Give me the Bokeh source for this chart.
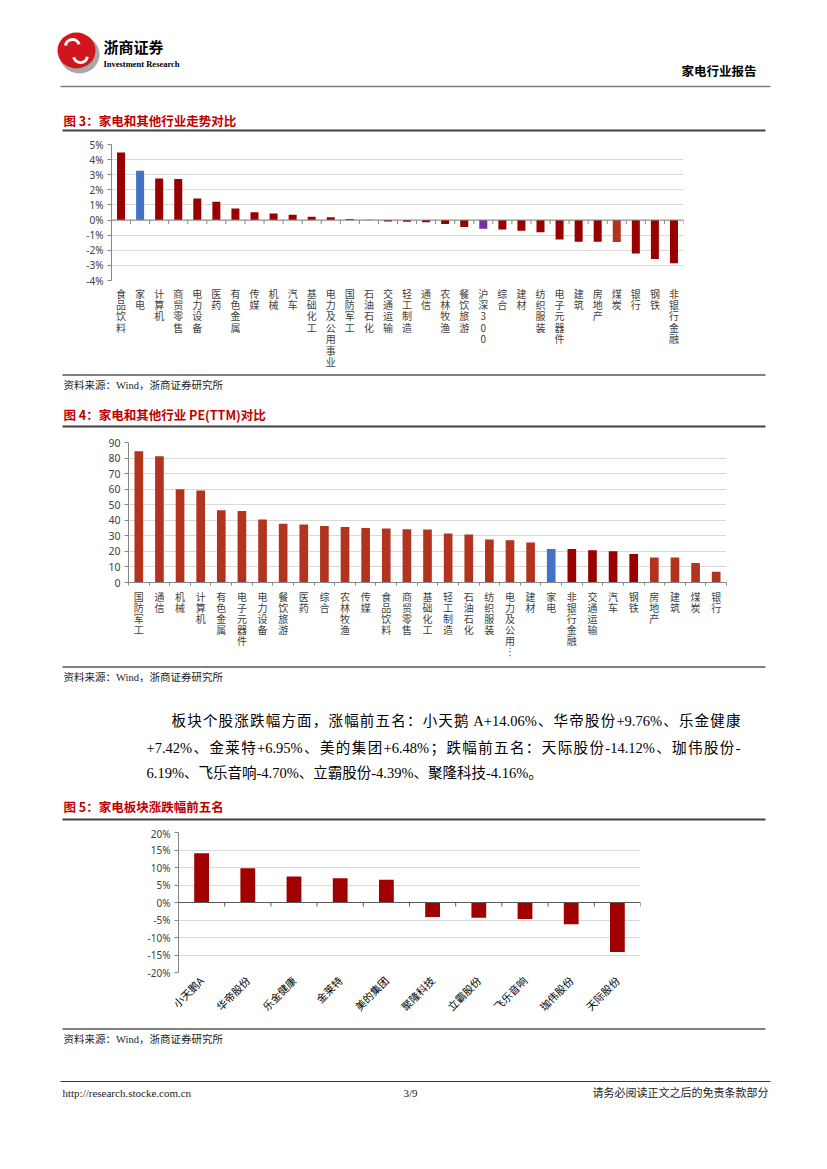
import math
from bokeh.plotting import figure
from bokeh.models import Range1d, FixedTicker, PrintfTickFormatter, ColumnDataSource, Span
from bokeh.core.properties import value
from bokeh.embed import file_html
from bokeh.resources import INLINE

# ---------------- data ----------------
cats3 = ["食品饮料", "家电", "计算机", "商贸零售", "电力设备", "医药", "有色金属", "传媒", "机械", "汽车",
         "基础化工", "电力及公用事业", "国防军工", "石油石化", "交通运输", "轻工制造", "通信", "农林牧渔",
         "餐饮旅游", "沪深300", "综合", "建材", "纺织服装", "电子元器件", "建筑", "房地产", "煤炭", "银行",
         "钢铁", "非银行金融"]
vals3 = [4.47, 3.26, 2.75, 2.71, 1.43, 1.21, 0.77, 0.51, 0.44, 0.35,
         0.22, 0.18, 0.07, 0.02, -0.10, -0.12, -0.15, -0.26,
         -0.46, -0.57, -0.62, -0.70, -0.81, -1.28, -1.43, -1.43, -1.45, -2.22,
         -2.58, -2.86]
ticks3 = [-4, -3, -2, -1, 0, 1, 2, 3, 4, 5]

cats4 = ["国防军工", "通信", "机械", "计算机", "有色金属", "电子元器件", "电力设备", "餐饮旅游", "医药", "综合",
         "农林牧渔", "传媒", "食品饮料", "商贸零售", "基础化工", "轻工制造", "石油石化", "纺织服装",
         "电力及公用事业", "建材", "家电", "非银行金融", "交通运输", "汽车", "钢铁", "房地产", "建筑", "煤炭", "银行"]
vals4 = [84.4, 81.2, 60.0, 59.1, 46.5, 45.9, 40.5, 37.7, 37.3, 36.4,
         35.6, 35.1, 34.7, 34.3, 34.1, 31.5, 30.9, 27.6,
         27.2, 25.7, 21.6, 21.6, 20.8, 20.1, 18.3, 16.1, 16.1, 12.5, 6.9]
ticks4 = [0, 10, 20, 30, 40, 50, 60, 70, 80, 90]

names5 = ["小天鹅A", "华帝股份", "乐金健康", "金莱特", "美的集团", "聚隆科技", "立霸股份", "飞乐音响", "珈伟股份", "天际股份"]
vals5 = [14.06, 9.76, 7.42, 6.95, 6.48, -4.16, -4.39, -4.70, -6.19, -14.12]
ticks5 = [-20, -15, -10, -5, 0, 5, 10, 15, 20]

para_lines = [
    "板块个股涨跌幅方面，涨幅前五名：小天鹅 A+14.06%、华帝股份+9.76%、乐金健康",
    "+7.42%、金莱特+6.95%、美的集团+6.48%；跌幅前五名：天际股份-14.12%、珈伟股份-",
    "6.19%、飞乐音响-4.70%、立霸股份-4.39%、聚隆科技-4.16%。",
]

# ---------------- styles ----------------
DARK = "#990000"
ORANGE = "#B2341E"
BLUE = "#4472C4"
PURPLE = "#7030A0"
TITLE_RED = "#C00000"
CJK = "Noto Sans CJK SC"
SERIF = "Liberation Serif, Noto Sans CJK SC"
NUMF = "Noto Sans"
W = 819


def canvas(top, bottom):
    p = figure(width=W, height=bottom - top, x_range=Range1d(0, W), y_range=Range1d(bottom, top),
               output_backend="svg", toolbar_location=None, x_axis_location=None, y_axis_location=None,
               min_border=0)
    p.grid.visible = False
    p.outline_line_color = None
    return p


def txt(p, x, y, s, size, color="#000000", font=CJK, style="normal", align="left"):
    p.text(x=[x], y=[y], text=[s], text_font=value(font), text_font_size=value(f"{size}px"),
           text_font_style=value(style), text_color=value(color), text_align=value(align),
           text_baseline=value("middle"))


def hline(p, y, x0, x1, color, width):
    p.segment(x0=[x0], y0=[y], x1=[x1], y1=[y], line_color=color, line_width=width)


# Liberation Serif (Times metrics) advance widths, in em
LAT_W = {str(d): 0.5 for d in range(10)}
LAT_W.update({".": 0.25, "%": 0.833, "+": 0.564, "-": 0.333, "A": 0.722, " ": 0.25})


def split_tokens(s):
    toks, cur = [], ""
    for ch in s:
        if ord(ch) > 0x2000:
            if cur:
                toks.append(cur)
                cur = ""
            toks.append(ch)
        else:
            cur += ch
    if cur:
        toks.append(cur)
    return toks


def para(p, x0, y, s, fs, right=None):
    toks = split_tokens(s)
    ws = []
    for t in toks:
        if len(t) == 1 and ord(t) > 0x2000:
            ws.append(fs)
        else:
            ws.append(sum(LAT_W.get(c, 0.5) for c in t) * fs)
    gap = 0.0
    if right is not None and len(toks) > 1:
        gap = (right - x0 - sum(ws)) / (len(toks) - 1)
    xs, shown = [], []
    x = x0
    for t, w in zip(toks, ws):
        lead = len(t) - len(t.lstrip(" "))
        xs.append(x + lead * LAT_W[" "] * fs)
        shown.append(t.lstrip(" "))
        x += w + gap
    p.text(x=xs, y=[y] * len(xs), text=shown, text_font=value(SERIF), text_font_size=value(f"{fs}px"),
           text_color=value("#000000"), text_align=value("left"), text_baseline=value("middle"))


def chart(n, yrange, left, frame_w, top, frame_h, bottom):
    p = figure(frame_width=frame_w, frame_height=frame_h, x_range=Range1d(-0.5, n - 0.5),
               y_range=Range1d(*yrange), output_backend="svg", toolbar_location=None,
               min_border_left=left, min_border_right=W - left - frame_w,
               min_border_top=top, min_border_bottom=bottom)
    p.outline_line_color = None
    p.xgrid.visible = False
    p.ygrid.grid_line_color = "#D9D9D9"
    p.ygrid.grid_line_width = 1
    ya = p.yaxis[0]
    ya.axis_line_color = "#868686"
    ya.major_tick_line_color = "#868686"
    ya.major_tick_out = 4
    ya.major_tick_in = 0
    ya.minor_tick_line_color = None
    ya.major_label_text_font = NUMF
    ya.major_label_text_font_size = "10px"
    ya.major_label_text_color = "#404040"
    ya.major_label_standoff = 4
    xa = p.xaxis[0]
    xa.major_tick_line_color = None
    xa.major_tick_in = 0
    xa.major_tick_out = 0
    xa.minor_tick_line_color = None
    xa.major_label_text_color = "#404040"
    xa.major_label_text_font = CJK
    return p


# ---------------- header ----------------
hdr = canvas(0, 135)
hdr.ellipse(x=[79], y=[54], width=40, height=38, fill_color="#A8A8A8", line_color=None)
hdr.ellipse(x=[76], y=[50], width=38, height=36, fill_color="#D2141C", line_color=None)
hdr.arc(x=[72, 80], y=[46, 55], radius=[7, 7], start_angle=[0.3, 3.4], end_angle=[3.0, 6.1],
        line_color="white", line_width=3)
txt(hdr, 103, 46, "浙商证券", 15, style="bold")
txt(hdr, 103, 63, "Investment Research", 8.5, font="Liberation Sans Narrow", style="bold")
txt(hdr, 756, 70, "家电行业报告", 12.5, style="bold", align="right")
hline(hdr, 86, 60, 770, "#7F7F7F", 1.5)
txt(hdr, 63, 120, "图 3：家电和其他行业走势对比", 12.5, TITLE_RED, style="bold")
hline(hdr, 130, 62, 765, "#404040", 2)

# ---------------- chart 3 ----------------
n3 = len(cats3)
col3 = []
for c in cats3:
    if c == "家电":
        col3.append(BLUE)
    elif c == "沪深300":
        col3.append(PURPLE)
    elif c == "煤炭":
        col3.append(ORANGE)
    else:
        col3.append(DARK)
src3 = ColumnDataSource(dict(x=list(range(n3)), top=vals3, color=col3))
p3 = chart(n3, (-4, 5), 111, 572, 9, 136, 91)
p3.vbar(x="x", top="top", bottom=0, width=0.42, fill_color="color", line_color=None, source=src3)
p3.yaxis.ticker = FixedTicker(ticks=ticks3)
p3.ygrid.ticker = FixedTicker(ticks=ticks3)
p3.yaxis.formatter = PrintfTickFormatter(format="%d%%")
p3.xaxis.ticker = FixedTicker(ticks=list(range(n3)))
lab3 = {}
for i, c in enumerate(cats3):
    lab3[i] = "\n".join(list(c))
p3.xaxis.major_label_overrides = lab3
p3.xaxis.axis_line_color = None
p3.xaxis.major_label_text_font_size = "10px"
p3.xaxis.major_label_text_line_height = 0.76
p3.xaxis.major_label_standoff = 5
p3.add_layout(Span(location=0, dimension="width", line_color="#868686", line_width=1))
tl3 = 4 / (136 / 9)
b3 = [i - 0.5 for i in range(n3 + 1)]
p3.segment(x0=b3, y0=[0] * len(b3), x1=b3, y1=[-tl3] * len(b3), line_color="#868686", line_width=1)

# ---------------- between 3 and 4 ----------------
m1 = canvas(372, 432)
hline(m1, 375.5, 62, 765, "#808080", 2)
txt(m1, 63, 386, "资料来源：Wind，浙商证券研究所", 10.5, "#222222", font=SERIF)
txt(m1, 63, 415, "图 4：家电和其他行业 PE(TTM)对比", 12.5, TITLE_RED, style="bold")
hline(m1, 427, 62, 765, "#404040", 2)

# ---------------- chart 4 ----------------
n4 = len(cats4)
col4 = []
for c in cats4:
    if c == "家电":
        col4.append(BLUE)
    elif c in ("非银行金融", "交通运输", "汽车", "钢铁"):
        col4.append(DARK)
    else:
        col4.append(ORANGE)
src4 = ColumnDataSource(dict(x=list(range(n4)), top=vals4, color=col4))
p4 = chart(n4, (0, 90), 128, 598, 11, 140, 81)
p4.vbar(x="x", top="top", bottom=0, width=0.42, fill_color="color", line_color=None, source=src4)
p4.yaxis.ticker = FixedTicker(ticks=ticks4)
p4.ygrid.ticker = FixedTicker(ticks=ticks4)
p4.yaxis.major_label_text_font_size = "10.5px"
p4.xaxis.ticker = FixedTicker(ticks=list(range(n4)), minor_ticks=[i - 0.5 for i in range(n4 + 1)])
lab4 = {}
for i, c in enumerate(cats4):
    s = c if len(c) <= 5 else c[:5]
    lab4[i] = "\n".join(list(s)) + ("\n︙" if len(c) > 5 else "")
p4.xaxis.major_label_overrides = lab4
p4.xaxis.axis_line_color = "#868686"
p4.xaxis.minor_tick_line_color = "#868686"
p4.xaxis.minor_tick_out = 3
p4.xaxis.minor_tick_in = 0
p4.xaxis.major_label_text_font_size = "10px"
p4.xaxis.major_label_text_line_height = 0.735
p4.xaxis.major_label_standoff = 3

# ---------------- between 4 and 5 ----------------
m2 = canvas(664, 827)
hline(m2, 667.5, 62, 765, "#808080", 2)
txt(m2, 63, 678, "资料来源：Wind，浙商证券研究所", 10.5, "#222222", font=SERIF)
para(m2, 171, 721, para_lines[0], 14.5, right=740)
para(m2, 146, 748, para_lines[1], 14.5, right=740)
para(m2, 146, 773, para_lines[2], 14.5)
txt(m2, 63, 807, "图 5：家电板块涨跌幅前五名", 12.5, TITLE_RED, style="bold")
hline(m2, 820, 62, 765, "#404040", 2)

# ---------------- chart 5 ----------------
n5 = len(names5)
src5 = ColumnDataSource(dict(x=list(range(n5)), top=vals5))
p5 = chart(n5, (-20, 20), 178, 462, 6, 140, 54)
p5.vbar(x="x", top="top", bottom=0, width=0.32, fill_color="#A00000", line_color=None, source=src5)
p5.yaxis.ticker = FixedTicker(ticks=ticks5)
p5.ygrid.ticker = FixedTicker(ticks=ticks5)
p5.yaxis.formatter = PrintfTickFormatter(format="%d%%")
p5.xaxis.ticker = FixedTicker(ticks=list(range(n5)))
p5.xaxis.major_label_overrides = {i: nm for i, nm in enumerate(names5)}
p5.xaxis.axis_line_color = None
p5.xaxis.major_label_orientation = math.pi / 4
p5.xaxis.major_label_text_font_size = "10.5px"
p5.xaxis.major_label_text_color = "#000000"
p5.xaxis.major_label_standoff = 6
p5.add_layout(Span(location=0, dimension="width", line_color="#595959", line_width=1))
tl5 = 4 / (140 / 40)
b5 = [i - 0.5 for i in range(n5 + 1)]
p5.segment(x0=b5, y0=[0] * len(b5), x1=b5, y1=[-tl5] * len(b5), line_color="#595959", line_width=1)

# ---------------- footer ----------------
ft = canvas(1027, 1161)
hline(ft, 1029.5, 62, 765, "#808080", 2)
txt(ft, 63, 1040, "资料来源：Wind，浙商证券研究所", 10.5, "#222222", font=SERIF)
hline(ft, 1082, 60, 770, "#7B1E1E", 1)
txt(ft, 62, 1093, "http://research.stocke.com.cn", 11, "#222222", font="Liberation Serif")
txt(ft, 410, 1093, "3/9", 11, "#222222", font="Liberation Serif", align="center")
txt(ft, 768, 1093, "请务必阅读正文之后的免责条款部分", 11, "#222222", font=SERIF, align="right")

roots = [hdr, p3, m1, p4, m2, p5, ft]
open("out.html", "w").write(file_html(roots, INLINE))
